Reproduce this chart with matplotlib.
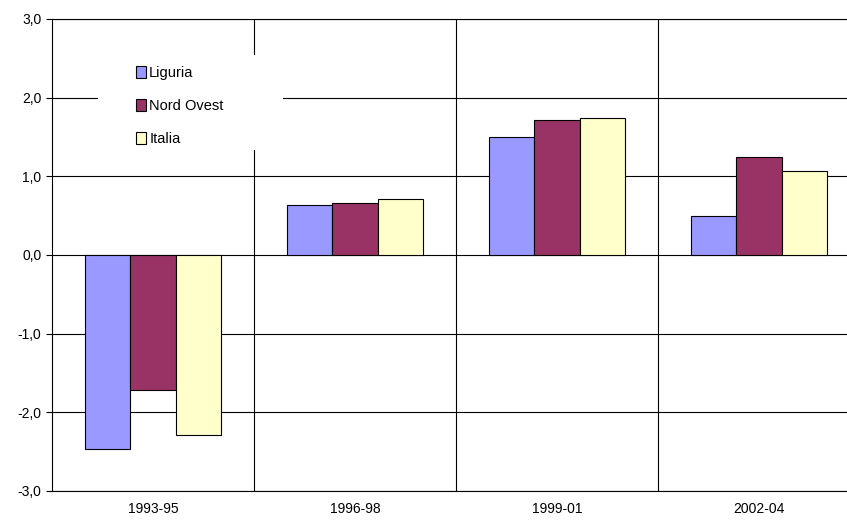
import matplotlib
matplotlib.use("Agg")
import matplotlib.pyplot as plt
from matplotlib.patches import Rectangle
import numpy as np

categories = ["1993-95", "1996-98", "1999-01", "2002-04"]
series = ["Liguria", "Nord Ovest", "Italia"]
liguria = [-2.46, 0.64, 1.50, 0.50]
nord_ovest = [-1.71, 0.66, 1.72, 1.25]
italia = [-2.29, 0.71, 1.74, 1.07]
colors = ["#9999FF", "#993366", "#FFFFCC"]

plt.rcParams['font.family'] = ['Liberation Sans', 'DejaVu Sans']
fig = plt.figure(figsize=(8.47, 5.28), dpi=100)
AW, AH = 808, 472
ax = fig.add_axes([52/847, 1-491/528, AW/847, AH/528])
x = np.arange(len(categories))
w = 0.223
for i, (vals, name) in enumerate(zip([liguria, nord_ovest, italia], series)):
    ax.bar(x + (i-1)*w, vals, w, color=colors[i], edgecolor="black", linewidth=0.8, label=name, zorder=3)
ax.set_xlim(-0.5, 3.5)
ax.set_ylim(-3, 3)
ax.set_yticks(np.arange(-3, 3.01, 1))
ax.set_yticklabels([f"{v:.1f}".replace(".", ",") for v in np.arange(-3, 3.01, 1)], fontsize=10)
ax.set_xticks(x)
ax.set_xticklabels(categories, fontsize=10)
ax.tick_params(axis='x', length=0, pad=8)
ax.tick_params(axis='y', length=4, direction='out')
ax.grid(axis='y', color='black', linewidth=0.8, zorder=0)
for b in [0.5, 1.5, 2.5]:
    ax.axvline(b, color='black', linewidth=0.8, zorder=0)
for s in ax.spines.values():
    s.set_linewidth(0.8)
ax.add_patch(Rectangle(((98-52)/AW, 1-(150-19)/AH), 185/AW, 95/AH, transform=ax.transAxes,
                       facecolor='white', edgecolor='none', zorder=4))
leg = ax.legend(loc='upper left', bbox_to_anchor=((136-52)/AW, 1-(66-19)/AH), frameon=False, fontsize=10.5,
                handlelength=0.7, handleheight=0.9, handletextpad=0.2, borderpad=0,
                labelspacing=1.3, borderaxespad=0)
leg.set_zorder(5)
fig.savefig("out.png", dpi=100)
